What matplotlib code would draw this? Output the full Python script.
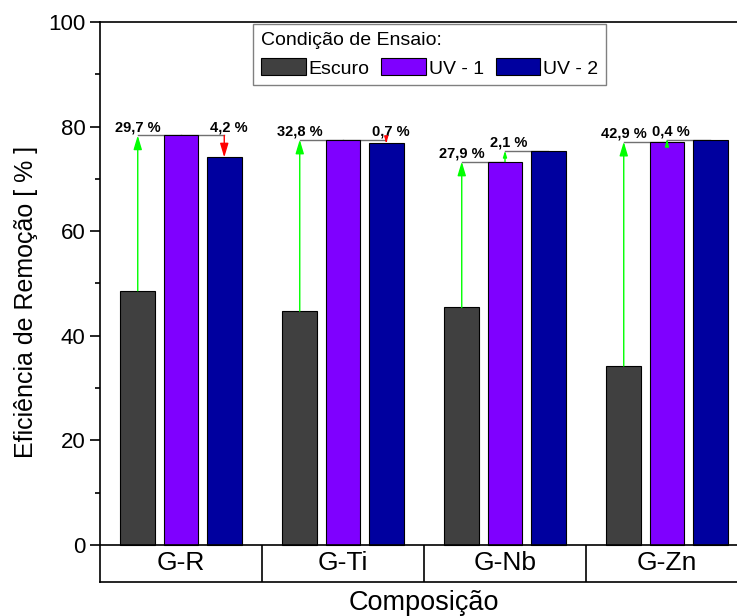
import matplotlib
matplotlib.use('Agg')
import matplotlib.pyplot as plt
import numpy as np

plt.rcParams['font.family'] = ['Liberation Sans', 'DejaVu Sans']

# dados
categorias = ['G-R', 'G-Ti', 'G-Nb', 'G-Zn']
escuro = [48.6, 44.7, 45.4, 34.2]
uv1 = [78.3, 77.5, 73.3, 77.1]
uv2 = [74.1, 76.8, 75.4, 77.5]
ganho_uv1 = ['29,7 %', '32,8 %', '27,9 %', '42,9 %']
ganho_uv2 = ['4,2 %', '0,7 %', '2,1 %', '0,4 %']

cores = ['#404040', '#7f00ff', '#00009f']
nomes = ['Escuro', 'UV - 1', 'UV - 2']

fig = plt.figure(figsize=(7.37, 6.16), dpi=100)
ax = fig.add_axes([100 / 737, 34 / 616, 648 / 737, 560 / 616])

x = np.arange(len(categorias))
w = 0.215
d = 0.267

barras = []
for k, (vals, cor, nome) in enumerate(zip([escuro, uv1, uv2], cores, nomes)):
    b = ax.bar(x + (k - 1) * d, vals, w, color=cor, edgecolor='black',
               linewidth=0.8, zorder=3, label=nome)
    barras.append(b)

ax.set_xlim(-0.5, len(categorias) - 0.5)
ax.set_ylim(-7.1, 100)

# caixa das categorias abaixo do eixo
ax.axhline(0, color='black', lw=1.2, zorder=5)
ax.vlines(x[:-1] + 0.5, -7.1, 0, color='black', lw=1.2)
for i, c in enumerate(categorias):
    ax.text(x[i], -3.55, c, ha='center', va='center', fontsize=19)

ax.spines['right'].set_visible(False)
for s in ['left', 'top', 'bottom']:
    ax.spines[s].set_linewidth(1.2)

ax.set_xticks([])
ax.set_yticks(range(0, 101, 20))
ax.set_yticks(range(10, 100, 20), minor=True)
ax.tick_params(axis='y', which='major', length=7, width=1.2, labelsize=16, direction='out')
ax.tick_params(axis='y', which='minor', length=3.6, width=1.2, direction='out')

ax.set_ylabel('Eficiência de Remoção [ % ]', fontsize=18, labelpad=7)
ax.set_xlabel('Composição', fontsize=19.5, labelpad=6)


def seta(xp, y0, y1, cor, escala):
    ax.annotate('', xy=(xp, y1), xytext=(xp, y0), zorder=4,
                arrowprops=dict(arrowstyle='-|>,head_length=0.6,head_width=0.18',
                                color=cor, lw=1, mutation_scale=escala,
                                shrinkA=0, shrinkB=0))


for i in range(len(categorias)):
    xe, xu1, xu2 = x[i] - d, x[i], x[i] + d
    ax.plot([xe, xu1], [uv1[i], uv1[i]], color='#707070', lw=1, zorder=2)
    seta(xe, escuro[i], uv1[i], '#00ff00', 14)
    ax.annotate(ganho_uv1[i], (xe, uv1[i]), xytext=(0, 3), textcoords='offset points',
                ha='center', va='baseline', fontsize=10.5, fontweight='bold')
    escala = 14 if abs(uv2[i] - uv1[i]) > 3 else 6
    if uv2[i] < uv1[i]:
        ax.plot([xu1, xu2], [uv1[i], uv1[i]], color='#707070', lw=1, zorder=2)
        seta(xu2, uv1[i], uv2[i], '#ff0000', escala)
        ax.annotate(ganho_uv2[i], (xu2, uv1[i]), xytext=(3, 3), textcoords='offset points',
                    ha='center', va='baseline', fontsize=10.5, fontweight='bold')
    else:
        ax.plot([xu1, xu2], [uv2[i], uv2[i]], color='#707070', lw=1, zorder=2)
        seta(xu1, uv1[i], uv2[i], '#00ff00', escala)
        ax.annotate(ganho_uv2[i], (xu1, uv2[i]), xytext=(3, 3), textcoords='offset points',
                    ha='center', va='baseline', fontsize=10.5, fontweight='bold')

leg = ax.legend(handles=barras, loc='upper left', bbox_to_anchor=(253 / 737, 1 - 24 / 616),
                bbox_transform=fig.transFigure, ncol=3, title='Condição de Ensaio:',
                title_fontsize=14, fontsize=14, alignment='left', fancybox=False,
                edgecolor='#808080', framealpha=1, handlelength=2.3, handleheight=0.95,
                handletextpad=0.15, columnspacing=0.6, borderpad=0.4, borderaxespad=0)
leg.get_frame().set_linewidth(1)

fig.savefig('out.png', dpi=100)
